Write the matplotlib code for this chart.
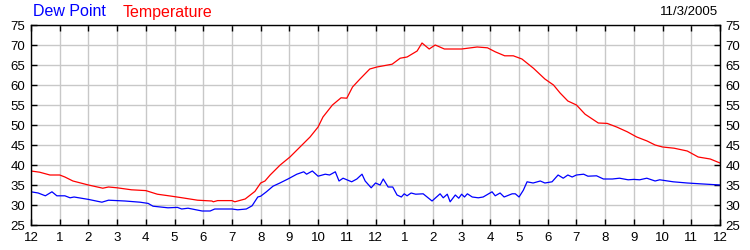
import matplotlib
matplotlib.use("Agg")
import matplotlib.pyplot as plt

# Temperature (hours since midnight, deg F)
temp_hours = [0.0, 0.3, 0.66, 1.0, 1.18, 1.46, 2.0, 2.5, 2.7, 3.0, 3.5, 4.0, 4.4, 4.9,
              5.27, 5.8, 6.3, 6.35, 6.5, 7.0, 7.1, 7.46, 7.8, 8.0, 8.15, 8.33, 8.68, 9.02, 9.37,
              9.72, 10.0, 10.17, 10.5, 10.8, 11.0, 11.2, 11.46, 11.8, 12.05, 12.58,
              12.86, 13.1, 13.45, 13.62, 13.87, 14.08, 14.4, 15.0, 15.54, 15.9,
              16.17, 16.5, 16.8, 17.1, 17.5, 17.9, 18.2, 18.43, 18.7, 19.0, 19.3,
              19.76, 20.07, 20.4, 20.77, 21.1, 21.46, 21.74, 22.0, 22.4, 22.86,
              23.24, 23.66, 24.0]
temp_vals = [38.5, 38.2, 37.5, 37.5, 37.0, 36.0, 35.0, 34.2, 34.5, 34.3, 33.8, 33.6, 32.7, 32.2,
             31.8, 31.2, 31.0, 30.8, 31.1, 31.1, 30.8, 31.5, 33.4, 35.5, 36.0, 37.5, 40.0, 42.0, 44.5,
             47.0, 49.5, 52.0, 55.0, 56.8, 56.7, 59.5, 61.5, 64.0, 64.5, 65.2,
             66.7, 67.0, 68.5, 70.5, 69.0, 70.0, 69.0, 69.0, 69.5, 69.3,
             68.3, 67.3, 67.3, 66.5, 64.2, 61.5, 60.0, 58.0, 56.0, 55.0, 52.7,
             50.5, 50.4, 49.5, 48.3, 47.0, 46.0, 45.0, 44.5, 44.2, 43.5,
             42.0, 41.5, 40.5]

# Dew point (hours since midnight, deg F)
dew_hours = [0.0, 0.25, 0.5, 0.73, 0.9, 1.18, 1.36, 1.5, 2.0, 2.47, 2.7, 3.27, 3.8, 4.08,
             4.25, 4.77, 5.1, 5.25, 5.47, 5.96, 6.24, 6.4, 7.0, 7.2, 7.5, 7.7, 7.9, 8.0,
             8.2, 8.43, 8.67, 8.95, 9.26, 9.5, 9.6, 9.8, 10.0, 10.25, 10.4, 10.6,
             10.73, 10.87, 11.17, 11.35, 11.53, 11.64, 11.85, 12.0, 12.16, 12.27,
             12.44, 12.6, 12.75, 12.9, 13.0, 13.1, 13.24, 13.4, 13.66, 13.97,
             14.25, 14.36, 14.5, 14.6, 14.78, 14.9, 15.0, 15.1, 15.2, 15.37,
             15.58, 15.75, 16.06, 16.17, 16.34, 16.48, 16.76, 16.87, 17.0, 17.15,
             17.28, 17.49, 17.74, 17.9, 18.15, 18.36, 18.54, 18.7, 18.85, 19.0,
             19.25, 19.4, 19.7, 19.94, 20.25, 20.5, 20.8, 21.0, 21.2, 21.45,
             21.74, 21.9, 22.37, 22.86, 23.3, 24.0]
dew_vals = [33.3, 33.0, 32.3, 33.3, 32.3, 32.3, 31.8, 32.0, 31.4, 30.7, 31.2, 31.0, 30.7, 30.4,
            29.7, 29.3, 29.4, 29.0, 29.2, 28.5, 28.5, 29.0, 29.0, 28.8, 29.0, 29.8, 32.0, 32.2,
            33.3, 34.7, 35.5, 36.5, 37.7, 38.3, 37.7, 38.5, 37.2, 37.7, 37.5, 38.3,
            36.0, 36.7, 35.8, 36.5, 37.7, 36.0, 34.3, 35.5, 35.0, 36.5,
            34.5, 34.5, 32.5, 32.0, 32.8, 32.3, 33.0, 32.7, 32.8, 31.0,
            32.8, 31.8, 32.7, 30.8, 32.5, 31.7, 32.7, 32.0, 32.8, 32.0,
            31.8, 32.0, 33.3, 32.3, 33.0, 32.0, 32.8, 32.8, 32.0, 33.7,
            35.8, 35.5, 36.0, 35.5, 35.8, 37.5, 36.7, 37.5, 37.0, 37.5,
            37.7, 37.2, 37.3, 36.5, 36.5, 36.7, 36.3, 36.4, 36.3, 36.7,
            36.0, 36.3, 35.8, 35.5, 35.3, 35.0]

x_tick_labels = ["12", "1", "2", "3", "4", "5", "6", "7", "8", "9", "10", "11",
                 "12", "1", "2", "3", "4", "5", "6", "7", "8", "9", "10", "11", "12"]
y_ticks = [25, 30, 35, 40, 45, 50, 55, 60, 65, 70, 75]

plt.rcParams['font.family'] = ['Liberation Sans', 'DejaVu Sans']

fig = plt.figure(figsize=(7.5, 2.5), dpi=100)
ax = fig.add_axes([31/750, 0.1, (720-31)/750, 0.8])

ax.plot(dew_hours, dew_vals, color="#0000ff", lw=0.9)
ax.plot(temp_hours, temp_vals, color="#ff0000", lw=0.9)

ax.set_xlim(0, 24)
ax.set_ylim(25, 75)
ax.set_xticks(range(25))
ax.set_xticklabels(x_tick_labels)
ax.set_yticks(y_ticks)
ax.grid(True, color="#c8c8c8", lw=1)
ax.set_axisbelow(True)
ax.tick_params(direction="in", length=4, width=1, top=True, right=True,
               labelright=True, labelsize=9.5, colors="black", pad=4)
ax.tick_params(axis="x", pad=5)
for s in ax.spines.values():
    s.set_linewidth(1)
    s.set_color("black")

fig.text(33/750, 1 - 12/250, "Dew Point", color="#0000ff", fontsize=11.5, va="center", ha="left")
fig.text(123/750, 1 - 12/250, "Temperature", color="#ff0000", fontsize=11.5, va="center", ha="left")
fig.text(718/750, 1 - 12/250, "11/3/2005", color="black", fontsize=9.5, va="center", ha="right")

fig.savefig("out.png", dpi=100)
